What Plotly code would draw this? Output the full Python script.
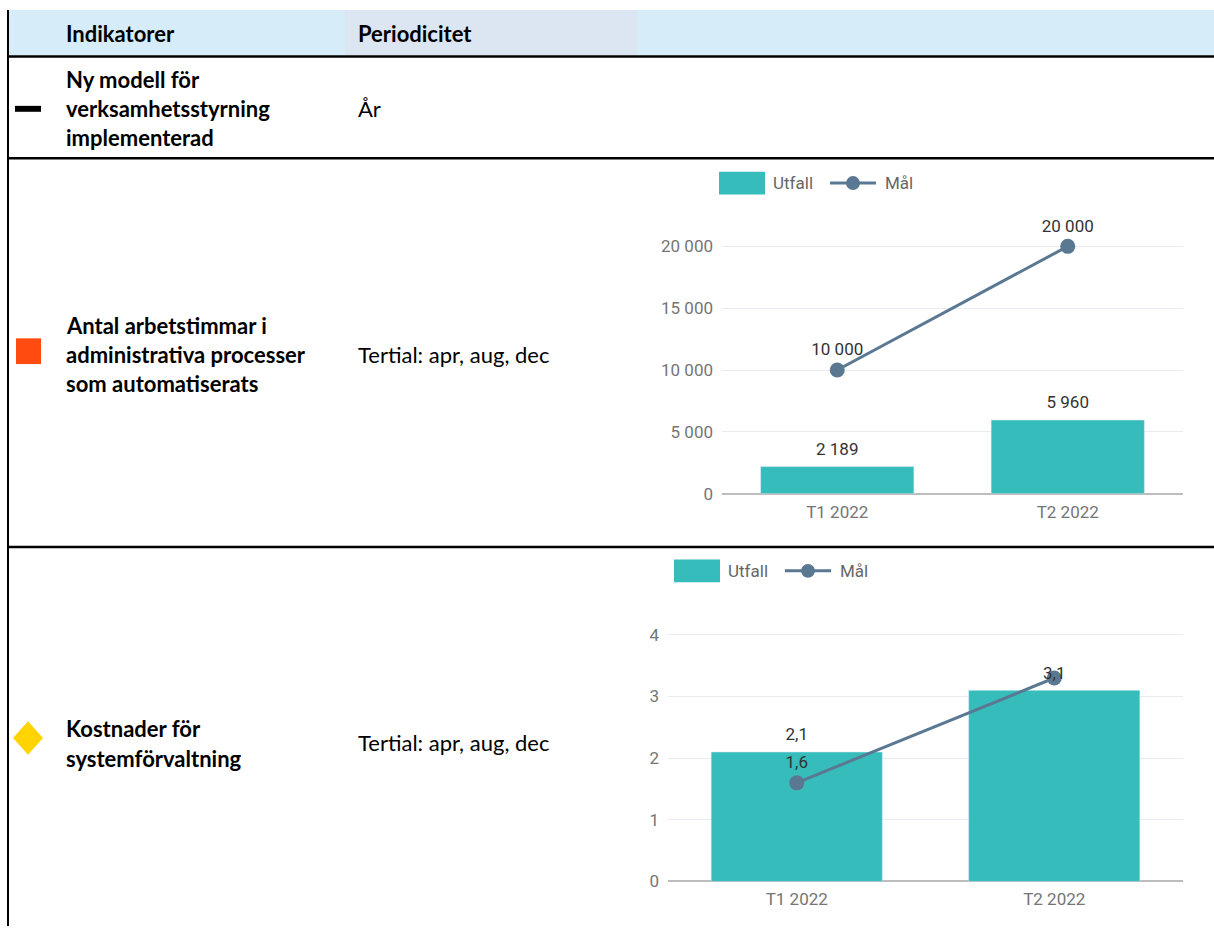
import plotly.graph_objects as go

W, H = 1214, 936

# ---- table content ----
header_labels = ["Indikatorer", "Periodicitet"]
indicator_lines = [
    ["Ny modell för", "verksamhetsstyrning", "implementerad"],
    ["Antal arbetstimmar i", "administrativa processer", "som automatiserats"],
    ["Kostnader för", "systemförvaltning"],
]
periodicity = ["År", "Tertial: apr, aug, dec", "Tertial: apr, aug, dec"]

# ---- chart data ----
periods = ["T1 2022", "T2 2022"]
legend_labels = ["Utfall", "Mål"]
utfall_timmar = [2189, 5960]
mal_timmar = [10000, 20000]
timmar_ticks = [0, 5000, 10000, 15000, 20000]
utfall_kostnad = [2.1, 3.1]
mal_kostnad = [1.6, 3.3]
mal_kostnad_label = [True, False]  # andra etiketten doldes i originalet
kostnad_ticks = [0, 1, 2, 3, 4]

TEAL = "#37BCBC"
SLATE = "#5B7892"
GRID = "#E9EDF1"
TICK = "#757575"
LABEL = "#333333"
CHART_FONT = "Roboto"
TABLE_FONT = "Lato"


def px(x):
    return x / W


def py(y):
    return 1 - y / H


fig = go.Figure()


def add_chart(n, x, utfall, mal, mal_tt, bar_tt):
    xa = "x" if n == 1 else f"x{n}"
    ya = "y" if n == 1 else f"y{n}"
    fig.add_trace(go.Bar(x=x, y=utfall, marker_color=TEAL, xaxis=xa, yaxis=ya,
                         showlegend=False, hoverinfo="y"))
    fig.add_trace(go.Scatter(
        x=x, y=mal, xaxis=xa, yaxis=ya, mode="lines+markers+text",
        line=dict(color=SLATE, width=3), marker=dict(color=SLATE, size=15),
        texttemplate=mal_tt, textposition="top center",
        textfont=dict(family=CHART_FONT, size=17, color=LABEL),
        cliponaxis=False, showlegend=False))
    # bar labels, drawn last so they sit on top of the line
    fig.add_trace(go.Scatter(
        x=x, y=utfall, xaxis=xa, yaxis=ya, mode="markers+text",
        marker=dict(size=10, opacity=0),
        texttemplate=bar_tt, textposition="top center",
        textfont=dict(family=CHART_FONT, size=17, color=LABEL),
        cliponaxis=False, showlegend=False, hoverinfo="skip"))


add_chart(1, periods, utfall_timmar, mal_timmar, "%{y:,}", "%{y:,}")
add_chart(2, periods, utfall_kostnad, mal_kostnad,
          ["%{y:.1f}" if s else "" for s in mal_kostnad_label], "%{y:.1f}")

axis_font = dict(family=CHART_FONT, size=17, color=TICK)
xcommon = dict(type="category", showgrid=False, showline=False, ticks="",
               tickfont=axis_font, ticklabelstandoff=6, fixedrange=True)
ycommon = dict(showgrid=True, gridcolor=GRID, gridwidth=1, zeroline=True,
               zerolinecolor="#BDBDBD", zerolinewidth=2, showline=False,
               tickfont=axis_font, ticks="", ticklabelstandoff=8, fixedrange=True)

fig.update_layout(
    width=W, height=H,
    margin=dict(l=0, r=0, t=0, b=0),
    paper_bgcolor="white", plot_bgcolor="white",
    separators=", ",
    bargap=0.335,
    showlegend=False,
    xaxis=dict(xcommon, domain=[px(722), px(1183)], anchor="y"),
    yaxis=dict(ycommon, domain=[py(499), py(224)], anchor="x",
               range=[0, 22000], tickvals=timmar_ticks, tickformat=","),
    xaxis2=dict(xcommon, domain=[px(668), px(1183)], anchor="y2"),
    yaxis2=dict(ycommon, domain=[py(891), py(623)], anchor="x2",
                range=[0, 4.3], tickvals=kostnad_ticks),
)

shapes = []
annotations = []

# header background
shapes.append(dict(type="rect", xref="paper", yref="paper", x0=px(8), x1=px(345),
                   y0=py(56), y1=py(10), fillcolor="#D6ECF8", line_width=0, layer="below"))
shapes.append(dict(type="rect", xref="paper", yref="paper", x0=px(345), x1=px(637),
                   y0=py(56), y1=py(10), fillcolor="#DCE6F2", line_width=0, layer="below"))
shapes.append(dict(type="rect", xref="paper", yref="paper", x0=px(637), x1=px(W),
                   y0=py(56), y1=py(10), fillcolor="#D6ECF8", line_width=0, layer="below"))

# table lines
shapes.append(dict(type="line", xref="paper", yref="paper", x0=px(8), x1=px(8),
                   y0=py(10), y1=py(H), line=dict(color="black", width=2)))
for ly in [57, 160, 553]:
    shapes.append(dict(type="line", xref="paper", yref="paper", x0=px(8), x1=px(W),
                       y0=py(ly), y1=py(ly), line=dict(color="black", width=2.5)))

# status icons
shapes.append(dict(type="rect", xref="paper", yref="paper", x0=px(15), x1=px(41),
                   y0=py(113), y1=py(107), fillcolor="black", line_width=0))
shapes.append(dict(type="rect", xref="paper", yref="paper", x0=px(16), x1=px(41),
                   y0=py(368), y1=py(342), fillcolor="#FF4B0F", line_width=0))
cx, cy = 28, 746
shapes.append(dict(type="path", xref="paper", yref="paper",
                   path=f"M {px(cx - 15)},{py(cy)} L {px(cx)},{py(cy - 17)} "
                        f"L {px(cx + 15)},{py(cy)} L {px(cx)},{py(cy + 17)} Z",
                   fillcolor="#FFD400", line_width=0))


def text(x, y, s, font=TABLE_FONT, size=22, color="black"):
    annotations.append(dict(xref="paper", yref="paper", x=px(x), y=py(y), text=s,
                            showarrow=False, xanchor="left", yanchor="middle",
                            font=dict(family=font, size=size, color=color)))


# header texts
text(64, 34, f"<b>{header_labels[0]}</b>")
text(356, 34, f"<b>{header_labels[1]}</b>")

# rows
row_line_y = [[80, 110, 139], [329, 358, 388], [736, 767]]
row_mid_y = [110, 358, 751]
for lines, ys in zip(indicator_lines, row_line_y):
    for s, yy in zip(lines, ys):
        text(64, yy, f"<b>{s}</b>")
for s, yy in zip(periodicity, row_mid_y):
    text(356, yy, s)


# chart legends (drawn manually to get the wide swatches)
def legend(x0, yc):
    shapes.append(dict(type="rect", xref="paper", yref="paper", x0=px(x0), x1=px(x0 + 46),
                       y0=py(yc + 11.5), y1=py(yc - 11.5), fillcolor=TEAL, line_width=0))
    text(x0 + 52, yc, legend_labels[0], font=CHART_FONT, size=17, color="#666666")
    shapes.append(dict(type="line", xref="paper", yref="paper", x0=px(x0 + 111), x1=px(x0 + 157),
                       y0=py(yc), y1=py(yc), line=dict(color=SLATE, width=3)))
    shapes.append(dict(type="circle", xref="paper", yref="paper",
                       x0=px(x0 + 127), x1=px(x0 + 141), y0=py(yc + 7), y1=py(yc - 7),
                       fillcolor=SLATE, line_width=0))
    text(x0 + 164, yc, legend_labels[1], font=CHART_FONT, size=17, color="#666666")


legend(719, 185)
legend(674, 577)

fig.update_layout(shapes=shapes, annotations=annotations)

fig.write_html(
    "out.html",
    config={"displayModeBar": False},
    post_script="document.body.style.margin='0';",
)
